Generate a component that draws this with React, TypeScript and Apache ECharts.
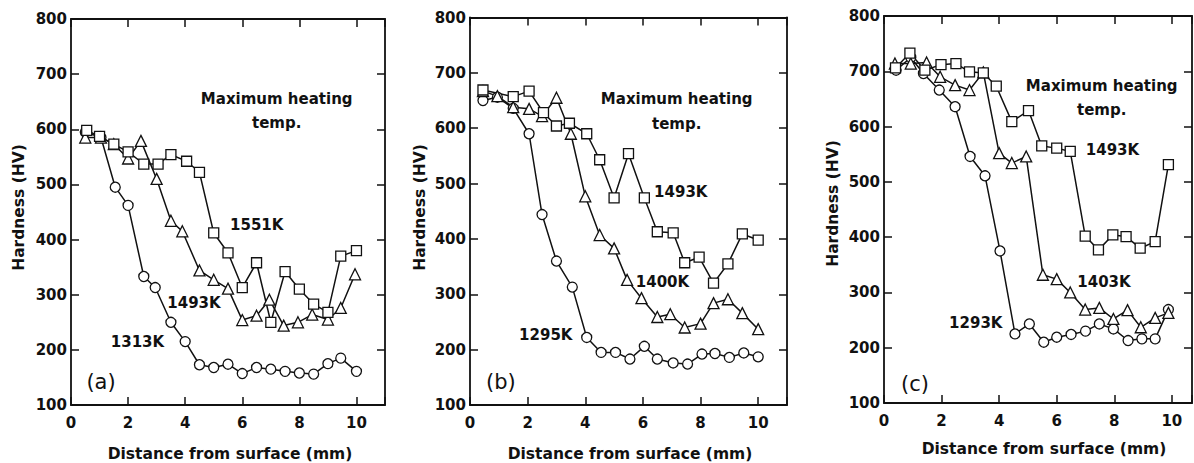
import React, { useEffect, useRef } from "react";
import * as echarts from "echarts";

// ---------- Panel (a) ----------
const aX1313 = [0.5, 1.05, 1.55, 2.0, 2.55, 2.95, 3.5, 4.0, 4.5, 5.0, 5.5, 6.0, 6.5, 7.0, 7.5, 8.0, 8.5, 9.0, 9.45, 10.0];
const aY1313 = [595, 585, 495, 462, 333, 313, 250, 215, 173, 168, 174, 157, 168, 165, 161, 158, 156, 175, 185, 161];
const aX1493 = [0.5, 1.05, 1.5, 2.0, 2.45, 3.0, 3.5, 3.9, 4.5, 5.0, 5.5, 6.0, 6.5, 6.95, 7.45, 7.95, 8.45, 9.0, 9.45, 9.95];
const aY1493 = [585, 585, 573, 547, 579, 510, 434, 415, 344, 327, 311, 254, 262, 291, 244, 250, 264, 255, 276, 337];
const aX1551 = [0.55, 1.0, 1.5, 2.0, 2.55, 3.05, 3.5, 4.05, 4.5, 5.0, 5.5, 6.0, 6.5, 7.0, 7.5, 8.0, 8.5, 9.0, 9.45, 10.0];
const aY1551 = [598, 587, 573, 559, 537, 537, 554, 542, 522, 412, 376, 313, 358, 250, 342, 310, 283, 268, 370, 380];

// ---------- Panel (b) ----------
const bX1295 = [0.45, 0.95, 1.5, 2.05, 2.5, 3.0, 3.55, 4.05, 4.55, 5.05, 5.55, 6.05, 6.5, 7.05, 7.55, 8.05, 8.5, 9.0, 9.5, 10.0];
const bY1295 = [650, 656, 636, 590, 444, 360, 313, 222, 195, 195, 183, 206, 183, 176, 174, 192, 193, 186, 194, 187];
const bX1400 = [0.45, 0.95, 1.5, 2.05, 2.5, 3.0, 3.5, 4.0, 4.5, 5.0, 5.45, 5.95, 6.5, 6.95, 7.45, 8.0, 8.45, 8.95, 9.45, 10.0];
const bY1400 = [667, 658, 638, 635, 622, 655, 590, 477, 407, 383, 326, 293, 259, 264, 240, 247, 284, 291, 266, 237];
const bX1493 = [0.45, 1.5, 2.05, 2.55, 3.0, 3.45, 4.05, 4.5, 5.0, 5.5, 6.05, 6.5, 7.05, 7.45, 7.95, 8.45, 8.95, 9.45, 10.0];
const bY1493 = [669, 657, 667, 628, 604, 609, 590, 543, 474, 554, 474, 413, 411, 357, 367, 320, 355, 409, 398];

// ---------- Panel (c) ----------
const cX1293 = [0.42, 0.93, 1.37, 1.92, 2.47, 2.99, 3.51, 4.03, 4.55, 5.05, 5.55, 6.0, 6.5, 7.0, 7.48, 7.97, 8.48, 8.96, 9.42, 9.88];
const cY1293 = [702, 725, 696, 666, 636, 546, 511, 375, 225, 243, 210, 219, 224, 230, 243, 234, 213, 216, 216, 269];
const cX1403 = [0.38, 0.93, 1.48, 1.95, 2.47, 2.97, 3.45, 4.0, 4.44, 4.94, 5.52, 6.0, 6.47, 6.99, 7.48, 7.97, 8.46, 8.92, 9.42, 9.88];
const cY1403 = [714, 714, 716, 690, 675, 666, 698, 552, 534, 546, 332, 324, 300, 269, 272, 252, 268, 237, 254, 263];
const cX1493 = [0.4, 0.9, 1.42, 1.98, 2.5, 2.97, 3.45, 3.9, 4.44, 5.02, 5.48, 6.0, 6.47, 6.99, 7.45, 7.95, 8.41, 8.9, 9.42, 9.88];
const cY1493 = [706, 733, 702, 712, 714, 699, 697, 673, 609, 629, 565, 561, 555, 402, 377, 404, 401, 380, 392, 531];

const xMaxes = [11, 11, 10.7];
const yMin = 100;
const yMax = 800;
const xTitle = "Distance from surface (mm)";
const yTitle = "Hardness (HV)";
const panelTags = ["(a)", "(b)", "(c)"];
const headingLine1 = "Maximum heating";
const headingLine2 = "temp.";

const FONT = '"DejaVu Sans", sans-serif';
const INK = "#111";

function mkSeries(name: string, xs: number[], ys: number[], symbol: string, gi: number) {
  return {
    type: "line",
    name,
    data: xs.map((x, i) => [x, ys[i]]),
    xAxisIndex: gi * 2,
    yAxisIndex: gi * 2,
    symbol,
    symbolSize: symbol === "triangle" ? 11 : 10,
    showSymbol: true,
    lineStyle: { color: INK, width: 1.5 },
    itemStyle: { color: "#fff", borderColor: INK, borderWidth: 1.3 },
    emphasis: { disabled: true },
    silent: true,
  };
}

function txt(text: string, x: number, y: number, size: number, weight = "bold", rotation = 0) {
  return {
    type: "text",
    x,
    y,
    rotation,
    silent: true,
    style: {
      text,
      x: 0,
      y: 0,
      align: "center",
      verticalAlign: "middle",
      font: `${weight} ${size}px ${FONT}`,
      fill: INK,
    },
  };
}

export default function App() {
  const ref = useRef<HTMLDivElement>(null);
  useEffect(() => {
    if (!ref.current) return;
    const chart = echarts.init(ref.current, null, { renderer: "svg" });
    const grids = [
      { left: 71, top: 19, width: 314, height: 386 },
      { left: 470, top: 17.5, width: 317, height: 387.5 },
      { left: 884, top: 16, width: 308, height: 387 },
    ];
    const xAxes: any[] = [];
    const yAxes: any[] = [];
    grids.forEach((_, gi) => {
      const common = {
        type: "value",
        gridIndex: gi,
        min: 0,
        max: xMaxes[gi],
        interval: 2,
        splitLine: { show: false },
        axisLine: { show: true, onZero: false, lineStyle: { color: INK, width: 1.8 } },
        axisTick: { show: true, inside: true, length: 8, lineStyle: { color: INK, width: 1.5 } },
      };
      xAxes.push({
        ...common,
        position: "bottom",
        axisLabel: {
          show: true,
          margin: 10,
          color: INK,
          fontFamily: FONT,
          fontWeight: "bold",
          fontSize: 15,
          showMaxLabel: true,
          formatter: (v: number) => (Math.abs(v % 2) < 1e-9 && v <= 10 ? String(v) : ""),
        },
      });
      xAxes.push({ ...common, position: "top", axisLabel: { show: false } });
      const ycommon = {
        type: "value",
        gridIndex: gi,
        min: yMin,
        max: yMax,
        interval: 100,
        splitLine: { show: false },
        axisLine: { show: true, onZero: false, lineStyle: { color: INK, width: 1.8 } },
        axisTick: { show: true, inside: true, length: 8, lineStyle: { color: INK, width: 1.5 } },
      };
      yAxes.push({
        ...ycommon,
        position: "left",
        axisLabel: { show: true, margin: 4, color: INK, fontFamily: FONT, fontWeight: "bold", fontSize: 15 },
      });
      yAxes.push({ ...ycommon, position: "right", axisLabel: { show: false } });
    });

    const series = [
      mkSeries("1313K", aX1313, aY1313, "circle", 0),
      mkSeries("1493K", aX1493, aY1493, "triangle", 0),
      mkSeries("1551K", aX1551, aY1551, "rect", 0),
      mkSeries("1295K", bX1295, bY1295, "circle", 1),
      mkSeries("1400K", bX1400, bY1400, "triangle", 1),
      mkSeries("1493K", bX1493, bY1493, "rect", 1),
      mkSeries("1293K", cX1293, cY1293, "circle", 2),
      mkSeries("1403K", cX1403, cY1403, "triangle", 2),
      mkSeries("1493K", cX1493, cY1493, "rect", 2),
    ];

    const graphic = [
      // panel a
      txt(headingLine1, 276.7, 99.3, 15, "bold"),
      txt(headingLine2, 276.7, 123.3, 15, "bold"),
      txt("1551K", 256.7, 225, 15),
      txt("1493K", 194, 303, 15),
      txt("1313K", 137.5, 342, 15),
      txt(panelTags[0], 101, 382, 21, "normal"),
      txt(xTitle, 230, 453.5, 15.5),
      txt(yTitle, 19, 207.5, 15.5, "bold", Math.PI / 2),
      // panel b
      txt(headingLine1, 676.7, 99.3, 15, "bold"),
      txt(headingLine2, 676.7, 124, 15, "bold"),
      txt("1493K", 680.8, 191.5, 15),
      txt("1400K", 662.5, 281.7, 15),
      txt("1295K", 545.8, 335, 15),
      txt(panelTags[1], 500.8, 381.7, 21, "normal"),
      txt(xTitle, 630, 453.5, 15.5),
      txt(yTitle, 419.5, 207.5, 15.5, "bold", Math.PI / 2),
      // panel c
      txt(headingLine1, 1101.7, 86, 15, "bold"),
      txt(headingLine2, 1101.7, 110, 15, "bold"),
      txt("1493K", 1112.5, 150, 15),
      txt("1403K", 1104, 281.7, 15),
      txt("1293K", 975.8, 323, 15),
      txt(panelTags[2], 915, 384, 21, "normal"),
      txt(xTitle, 1044, 449, 15.5),
      txt(yTitle, 832.5, 203.5, 15.5, "bold", Math.PI / 2),
    ];

    chart.setOption({
      animation: false,
      backgroundColor: "#fff",
      grid: grids.map((g) => ({ ...g, containLabel: false, outerBoundsMode: "none" })),
      xAxis: xAxes,
      yAxis: yAxes,
      series,
      graphic,
    });
    return () => chart.dispose();
  }, []);
  return (
    <div
      ref={ref}
      style={{ position: "absolute", left: 0, top: 0, width: 1194, height: 463, background: "#fff" }}
    />
  );
}
